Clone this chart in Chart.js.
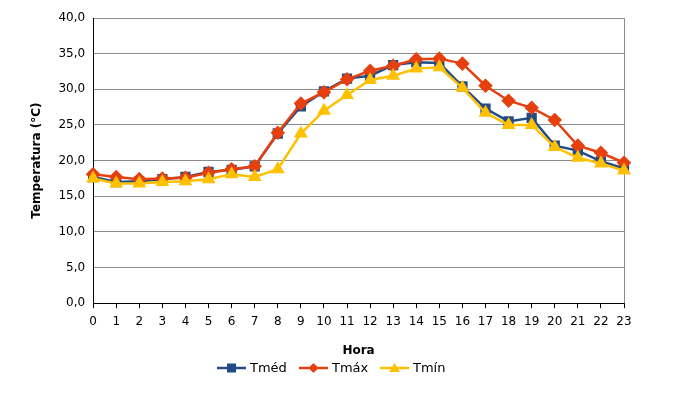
<!DOCTYPE html>
<html>
<head>
<meta charset="utf-8">
<script src="https://cdn.jsdelivr.net/npm/chart.js@4.4.0/dist/chart.umd.min.js"></script>
<style>
  html, body { margin: 0; padding: 0; background: #fff; }
  #wrap { width: 684px; height: 404px; }
</style>
</head>
<body>
<div id="wrap"><canvas id="myChart"></canvas></div>
<script>
const hours = ["0","1","2","3","4","5","6","7","8","9","10","11","12","13","14","15","16","17","18","19","20","21","22","23"];

const tmed = [17.7, 17.0, 17.1, 17.4, 17.7, 18.4, 18.7, 19.2, 23.8, 27.6, 29.7, 31.5, 31.9, 33.4, 33.8, 33.7, 30.4, 27.3, 25.5, 26.0, 22.1, 21.4, 19.9, 18.9];
const tmax = [18.1, 17.7, 17.4, 17.5, 17.6, 18.3, 18.8, 19.2, 23.9, 28.0, 29.6, 31.4, 32.6, 33.3, 34.2, 34.3, 33.6, 30.5, 28.4, 27.4, 25.7, 22.1, 21.1, 19.7];
const tmin = [17.5, 16.8, 16.8, 17.0, 17.1, 17.4, 18.1, 17.7, 18.8, 23.8, 27.0, 29.2, 31.3, 31.9, 32.9, 33.1, 30.2, 26.7, 25.0, 25.0, 21.9, 20.4, 19.6, 18.6];

const FONT = "'DejaVu Sans', Verdana, sans-serif";

// borde derecho gris del area de trazado
const plotBorder = {
  id: "plotBorder",
  beforeDatasetsDraw(chart) {
    const a = chart.chartArea;
    const ctx = chart.ctx;
    ctx.save();
    ctx.strokeStyle = "#8C8C8C";
    ctx.lineWidth = 1;
    ctx.beginPath();
    ctx.moveTo(a.right + 0.5, a.top);
    ctx.lineTo(a.right + 0.5, a.bottom);
    ctx.stroke();
    ctx.restore();
  },
};

// leyenda estilo Excel: linea + marcador
const excelLegend = {
  id: "excelLegend",
  afterDraw(chart) {
    const ctx = chart.ctx;
    const y = 368;
    const items = [
      { x: 217, ds: chart.data.datasets[0] },
      { x: 299, ds: chart.data.datasets[1] },
      { x: 380, ds: chart.data.datasets[2] },
    ];
    ctx.save();
    items.forEach((it) => {
      const ds = it.ds;
      ctx.strokeStyle = ds.borderColor;
      ctx.lineWidth = 2.5;
      ctx.beginPath();
      ctx.moveTo(it.x, y);
      ctx.lineTo(it.x + 29, y);
      ctx.stroke();
      const cx = it.x + 14.5;
      ctx.fillStyle = ds.borderColor;
      ctx.beginPath();
      if (ds.pointStyle === "rect") {
        ctx.rect(cx - 4.5, y - 4.5, 9, 9);
      } else if (ds.pointStyle === "rectRot") {
        ctx.moveTo(cx, y - 5);
        ctx.lineTo(cx + 5, y);
        ctx.lineTo(cx, y + 5);
        ctx.lineTo(cx - 5, y);
        ctx.closePath();
      } else {
        ctx.moveTo(cx, y - 5);
        ctx.lineTo(cx + 5.5, y + 4);
        ctx.lineTo(cx - 5.5, y + 4);
        ctx.closePath();
      }
      ctx.fill();
      ctx.fillStyle = "#000";
      ctx.font = "13px " + FONT;
      ctx.textBaseline = "middle";
      ctx.textAlign = "left";
      ctx.fillText(ds.label, it.x + 33, y + 1);
    });
    ctx.restore();
  },
};

const config = {
  type: "line",
  data: {
    labels: hours,
    datasets: [
      {
        label: "Tméd",
        data: tmed,
        borderColor: "#234C86",
        backgroundColor: "#234C86",
        borderWidth: 2.5,
        pointStyle: "rect",
        pointRadius: 5.5,
        order: 3,
      },
      {
        label: "Tmáx",
        data: tmax,
        borderColor: "#E5400E",
        backgroundColor: "#E5400E",
        borderWidth: 2.5,
        pointStyle: "rectRot",
        pointRadius: 5.5,
        order: 2,
      },
      {
        label: "Tmín",
        data: tmin,
        borderColor: "#FFC000",
        backgroundColor: "#FFC000",
        borderWidth: 2.5,
        pointStyle: "triangle",
        pointRadius: 5.5,
        order: 1,
      },
    ],
  },
  options: {
    responsive: true,
    maintainAspectRatio: false,
    animation: false,
    layout: {
      padding: { left: 30, right: 60, top: 18, bottom: 46 },
    },
    plugins: {
      legend: { display: false },
      tooltip: { enabled: false },
    },
    scales: {
      x: {
        offset: false,
        grid: {
          drawOnChartArea: false,
          drawTicks: true,
          tickLength: 5,
          color: "#000",
        },
        border: { color: "#000", width: 1 },
        ticks: {
          color: "#000",
          font: { family: FONT, size: 12 },
          maxRotation: 0,
          autoSkip: false,
          padding: 6,
        },
        title: {
          display: true,
          text: "Hora",
          color: "#000",
          font: { family: FONT, size: 12, weight: "bold" },
          padding: { top: 9, bottom: 0 },
        },
      },
      y: {
        min: 0,
        max: 40,
        grid: {
          color: "#8C8C8C",
          lineWidth: 1,
          drawTicks: false,
        },
        border: { color: "#000", width: 1 },
        ticks: {
          stepSize: 5,
          color: "#000",
          font: { family: FONT, size: 12 },
          padding: 8,
          callback: (v) => v.toFixed(1).replace(".", ","),
        },
        title: {
          display: true,
          text: "Temperatura (°C)",
          color: "#000",
          font: { family: FONT, size: 12, weight: "bold" },
          padding: { top: 0, bottom: 6 },
        },
      },
    },
  },
  plugins: [plotBorder, excelLegend],
};

var myChart = new Chart(document.getElementById("myChart"), config);
</script>
</body>
</html>
